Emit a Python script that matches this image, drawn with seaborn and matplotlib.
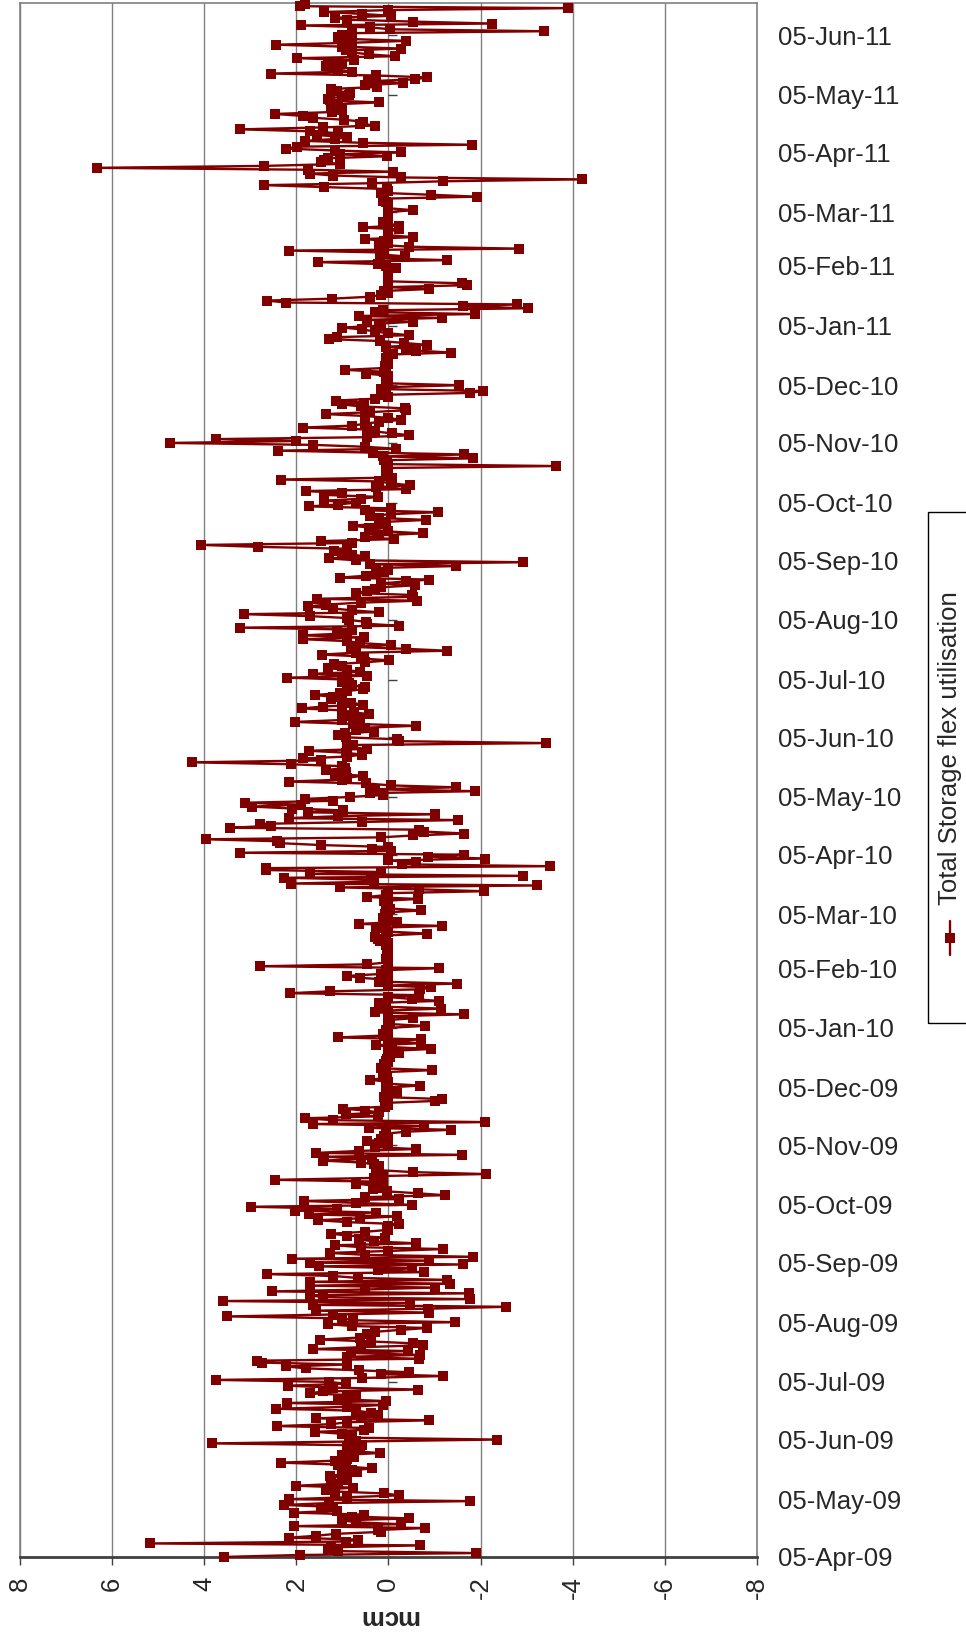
import matplotlib
matplotlib.use("Agg")
import matplotlib.pyplot as plt
from matplotlib.patches import Rectangle
from matplotlib.lines import Line2D
import seaborn as sns
import numpy as np
import pandas as pd

# daily storage flex utilisation (mcm)
flex_2009 = [
    3.57, 1.92, -1.90, 1.1, 1.32, 1.24, -0.68, 5.17, 0.93, 0.66,
    2.15, 1.57, 1.14, 0.17, 0.23, -0.79, 2.05, -0.27, 0.70, 1.0,
    -0.45, 0.8, 0.54, 2.05, 1.12, 1.47, 1.2, 2.26, 1.3, -1.78,
    2.17, 0.9, -0.23, 0.09, 1.16, 1.36, 0.78, 2.0, 1.1, 1.24,
    0.9, 1.0, 1.28, 1.0, 0.68, 0.8, 0.36, 0.93, 1.1, 2.33,
    1.16, 0.9, 0.74, 1.0, 0.19, 0.8, 0.62, 0.9, 0.58, 3.84,
    0.7, -2.36, 0.85, 0.8, 1.0, 1.59, 0.54, 0.43, 2.43, 1.24,
    0.9, -0.89, 1.57, 0.6, 0.23, 0.39, 0.70, 2.44, 0.9, 0.12,
    2.21, 0.06, 1.09, 0.9, 0.70, 1.71, 1.43, -0.64, 1.2, 2.19,
    0.93, 1.3, 3.74, 0.58, -1.18, 0.17, -0.45, 0.64, 1.78, 2.22,
    0.9, 2.75, 2.85, -0.66, 0.9, -0.68, 0.81, -0.43, 1.64, 0.6,
    -0.74, -0.54, 0.39, 1.49, 0.62, 0.39, 0.47, 0.3, -0.27, -0.83,
    0.79, 1.32, -1.45, 0.78, 1.0, 3.50, 1.2, -0.89, 1.57, -0.85,
    -2.56, 1.63, -0.47, 3.59, -1.78, 1.43, 1.71, -1.74, 2.52, 0.5,
    -1.0, 1.71, -1.33, 1.71, -1.28, 0.66, 1.2, 2.64, -0.78, 0.23,
    -0.50, 1.5, -1.61, 1.71, -0.89, 2.09, -1.84, 0.5, 1.28, 0.02,
    -1.19, 0.6, 1.16, -0.60, 0.31, 0.65, 0.08, 0.89, 1.24, 0.5,
    0.0, 0.04, 0.0, -0.22, 0.9, 1.53, 0.62, -0.19, 1.72, 0.27,
    2.04, 1.12, 2.98, -0.50, 0.70, 1.84, -0.22, 0.5, -1.22, -0.64,
    0.04, 0.33, 0.2, 0.31, 0.71, 0.12, 2.46, 0.31, 0.12, -2.11,
    -0.54, 0.2,
    0.27, 0.2, 0.31, 0.6, 1.43, 0.35, 1.41, -1.59, 1.57, 0.64,
    -0.60, 0.3, 0.0, 0.2, 0.47, 0.16, 0.0, 0.1, 0.05, -0.37,
    -1.36, 0.43, -0.78, 1.64, -2.09, 1.20, 1.82, 0.23, 0.93, 0.21,
    0.5, 0.99, 0.08, 0.02, 0.05, -1.02, -1.16, 0.1, 0.0, -0.19,
    0.0, 0.05, 0.0, -0.68, 0.05, 0.02, 0.40, 0.04, 0.1, 0.12,
    0.05, -0.95, 0.17, 0.05, 0.1, 0.0, 0.05, 0.04, -0.04, 0.0,
    -0.23, 0.0, -0.93, -0.08, 0.27, -0.70, 0.0, -0.71, 1.09,
]

flex_2010 = [
    0.1,
    0.12, 0.0, 0.05, 0.0, -0.79, 0.0, -0.04, 0.02, -0.53, 0.0,
    -1.64, 0.29, 0.0, -1.15, 0.12, 0.05, 0.2, -1.09, -0.50, 0.0,
    -0.66, 2.13, 1.26, -0.68, -0.93, 0.0, -1.49, 0.2, 0.0, 0.62,
    0.89,
    0.17, 0.0, 0.05, -1.09, 2.78, 0.47, 0.02, 0.0, 0.05, 0.0,
    0.02, 0.0, 0.04, 0.0, 0.02, 0.05, 0.0, 0.19, 0.23, 0.29,
    0.05, -0.83, 0.0, 0.05, 0.27, -1.16, 0.64, -0.19, 0.05, 0.12,
    0.0, 0.08, 0.05, -0.71, -0.04, 0.0, 0.05, 0.0, 0.1, -0.64,
    0.47, 0.05, 0.0, -2.07, -0.66, 1.06, -3.22, 2.11, 0.31, 0.39,
    2.26, -2.91, 1.71, 0.16, 2.65, 2.65, -3.51, -0.29, -0.60, 0.0,
    -2.09, -0.85, -1.65, 3.23, -0.06, 0.35, 0.0, 1.47, 2.36, 2.42,
    3.97, 0.17, -0.54, -1.65, -0.78, -0.66, 3.43, 2.54, 2.79, 0.58,
    -1.50, 2.17, 1.10, -1.01, 1.74, 0.98, 2.09, 2.96, 1.90, 3.12,
    1.2, 1.81, 0.83, 0.12, 0.40, -1.88, 0.3, -1.47, -0.06, 0.48,
    2.17,
    1.0, 0.9, 0.56, 1.16, 0.93, 1.36, 0.95, 1.0, 2.11, 4.26,
    1.47, 1.86, 0.9, 0.58, 0.93, 1.73, 0.47, 0.9, 0.78, -3.43,
    -0.23, -0.19, 0.93, 1.1, 0.95, 0.31, 0.7, 0.50, -0.60, 0.78,
    2.04, 1.0, 0.62, 0.8, 0.43, 0.74, 1.0, 1.88, 1.43, 0.56,
    0.81, 1.0, 1.24, 1.2, 1.59, 1.05, 0.9, 0.56, 0.50, 0.8,
    0.85, 1.0, 0.9, 2.21, 0.47, 1.64, 0.62, 0.9, 1.32, 1.0,
    1.18, 0.50, -0.02, 0.6, 0.54, 1.45, 0.7, -1.28, -0.37, 0.81,
    -0.06, 0.62, 0.9, 1.86, 0.54, 1.86, 0.9, 1.12, 0.8, 3.22,
    -0.22, 0.47, 0.48, 0.85, 0.9, 1.71, 3.14, 0.21, 0.8, 1.20,
    1.74, 1.36, 0.6, -0.62, 1.55, -0.54, -0.50, 0.71, 0.47, 0.3,
    0.16, -0.58,
    0.16, -0.37, -0.89, 1.06, 0.48, 0.27, 0.1, 0.0, 0.27, -1.46,
    0.4, -2.93, 0.70, 1.30, 0.50, 0.8, 1.0, 1.18, 0.9, 2.84,
    4.07, 0.8, 1.46, -0.12, 0.50, 0.2, -0.74, 0.0, 0.33, 0.43,
    0.78, 0.2, 0.05, -0.81, 0.2, 0.40, -0.05, -1.07, 0.5, -0.05,
    1.72, 1.10, 0.70, 1.40, 0.6, 0.23, 1.40, 1.0, 1.80, -0.39,
    0.27, -0.47, -0.05, 0.2, 2.33, -0.08, 0.0, 0.05, 0.0, 0.05,
    0.0, -3.63, 0.02, 0.04, 0.1, -1.84, 0.12, -1.65, 0.33, 2.39,
    -0.16, 0.5, 1.63, 4.74, 2.0, 3.74, 0.47, -0.45, -0.08, 0.3,
    0.47, 1.86, 0.8, 0.50, 0.2, -0.27, 0.0, 0.5, 1.36, 0.4,
    -0.37, -0.35, 0.6, 1.0, 0.54, 1.15, 0.3, 0.0, 0.16, -1.77,
    -2.05,
    0.17, 0.05, -1.53, 0.02, 0.0, 0.02, 0.05, 0.0, 0.48, 0.1,
    0.95, 0.05, 0.08, 0.0, 0.02, 0.0, 0.05, 0.0, -0.1, -1.36,
    -0.60, -0.37, 0.05, -0.83, -0.33, 0.19, 1.30, 1.12, -0.45,
]

flex_2011 = [
    0.0,
    0.3, 0.58, 1.0, 0.16, 0.2, -0.53, 0.47, -1.16, 0.64, -1.88,
    0.3, 0.12, -3.02, -1.61, -2.79, 2.23, 2.64, 1.22, 0.4, 0.16,
    0.0, 0.1, -0.87, 0.0, -1.71, -1.60, 0.0, 0.02, 0.0, 0.02,
    0.0, 0.02, 0.0, -0.16, 0.05, 0.23, 1.53, -1.28, 0.19, -0.35,
    0.19, 0.1, 2.17, -2.83, -0.45, 0.2, 0.0, 0.1, 0.50, -0.53,
    0.0, 0.02, 0.0, -0.23, 0.56, -0.23, 0.0, 0.12, 0.0, 0.02,
    0.0, 0.02, 0.0, -0.54, 0.02, 0.0, 0.02, 0.05, 0.12, 0.1,
    -1.92,
    -0.93, 0.17, 0.0, 0.04, 1.41, 2.70, 0.35, -1.18, -4.20, -0.27,
    1.20, 1.71, -0.10, 1.74, 6.32, 2.70, 1.05, 1.47, 1.40, 1.32,
    0.04, 1.05, -0.27, 1.16, 2.23, 1.98, -1.81, 0.56, 1.82, 1.16,
    0.89, 1.55, 1.09, 1.71, 3.22, 1.43, 0.29, 0.62, 0.56, 0.97,
    1.63, 1.86, 2.47, 1.22, 1.0, 1.24, 1.1, 1.20, 0.21, 1.28,
    1.32, 1.0, 0.85, 0.84, 1.12, 1.24, 0.25, 0.5, -0.31, 0.45,
    -0.58, -0.83, 0.27, 2.54, 0.79, 1.09, 1.2, 1.36, 1.0, 1.32,
    0.74, 1.98, -0.14, 0.43, 0.8, 0.93, -0.27, 1.0, 2.44, 0.79,
    -0.39, 0.9, 1.10, 1.0, 0.79, -3.37, -0.04, 0.40, 1.90, -2.25,
    -0.54, 0.9, 1.16, -0.06, 0.58, 1.41, 0.0, -3.90, 1.92, 1.82,
]

series_name = "Total Storage flex utilisation"
value_ticks = [-8, -6, -4, -2, 0, 2, 4, 6, 8]
date_ticks = list(pd.date_range("2009-04-01", "2011-06-01", freq="MS") + pd.Timedelta(days=4))
date_labels = [d.strftime("%d-%b-%y") for d in date_ticks]

values = flex_2009 + flex_2010 + flex_2011
dates = pd.date_range("2009-04-05", periods=len(values), freq="D")
df = pd.DataFrame({"date": dates, "mcm": values})

sns.set_style("white")
plt.rcParams["font.family"] = ["Liberation Sans", "DejaVu Sans"]
plt.rcParams["axes.unicode_minus"] = False

red = "#800000"
grey = "#808080"

fig = plt.figure(figsize=(9.66, 16.38), dpi=100)
ax = fig.add_axes([0.0207, 0.0495, 0.7629, 0.9487])

sns.lineplot(data=df, x="mcm", y="date", orient="y", sort=False, estimator=None,
             color=red, linewidth=1.7, marker="s", markersize=7,
             markeredgewidth=0, ax=ax, zorder=3, clip_on=False)

# the old category axis sitting at zero, with its little month ticks
ax.plot(np.zeros(len(date_ticks)), date_ticks, linestyle="none", marker=1,
        markersize=6.5, markeredgewidth=1.0, color="#404040", zorder=2)

ax.set_xlim(8, -8)
ax.set_ylim(dates[0], dates[0] + pd.Timedelta(days=807.7))
ax.set_xticks(value_ticks)
ax.grid(True, axis="x", color=grey, linewidth=1.0)
ax.grid(False, axis="y")

ax.set_yticks(date_ticks)
ax.set_yticklabels(date_labels)
ax.yaxis.tick_right()
ax.tick_params(axis="y", length=0, pad=15, labelsize=18.5)
ax.tick_params(axis="x", direction="out", length=6, width=1, color="#404040",
               labelsize=18.5, labelrotation=90, pad=8, bottom=True)
ax.set_ylabel("")
ax.set_xlabel("mcm", fontsize=18.5, fontweight="bold", rotation=180, labelpad=4)

for side in ["top", "left", "right"]:
    ax.spines[side].set_color(grey)
    ax.spines[side].set_linewidth(1.2)
ax.spines["bottom"].set_color("#404040")
ax.spines["bottom"].set_linewidth(2)

# legend box, turned on its side like the rest of the chart
fig.add_artist(Rectangle((928 / 966, 1 - 1023 / 1638), 0.08, 511 / 1638,
                         transform=fig.transFigure, fill=False,
                         edgecolor="black", linewidth=1))
fig.add_artist(Line2D([950 / 966, 950 / 966], [1 - 955 / 1638, 1 - 921 / 1638],
                      transform=fig.transFigure, color=red, linewidth=1.7))
fig.add_artist(Line2D([950 / 966], [1 - 938 / 1638], transform=fig.transFigure,
                      color=red, linestyle="none", marker="s", markersize=7,
                      markeredgewidth=0))
fig.text(950 / 966, 1 - 905 / 1638, series_name, rotation=90, fontsize=18.5,
         ha="center", va="bottom")

fig.savefig("out.png", dpi=100)
